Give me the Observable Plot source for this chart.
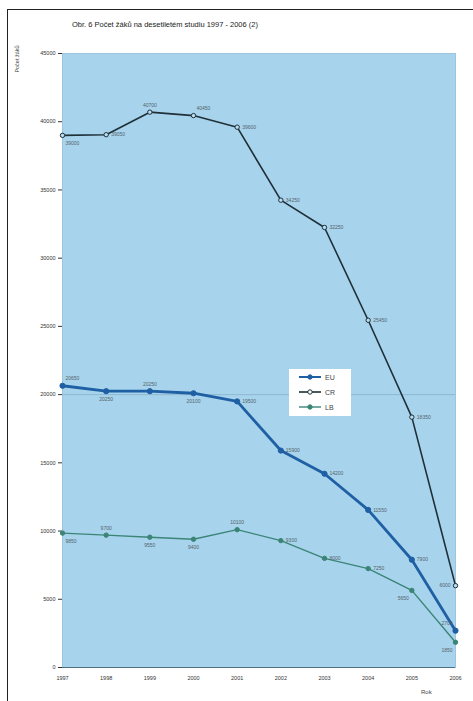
<!DOCTYPE html>
<html><head><meta charset="utf-8">
<script src="https://cdn.jsdelivr.net/npm/d3@7"></script>
<script src="https://cdn.jsdelivr.net/npm/@observablehq/plot@0.6"></script>
<style>
body{margin:0;background:#fff;font-family:"Liberation Sans",Arial,sans-serif;}
#wrap{position:relative;width:473px;height:701px;overflow:hidden;background:#fff;}
#frame{position:absolute;left:7px;top:9px;width:480px;height:700px;border-left:1.5px solid #222;border-top:1.5px solid #222;}
#title{position:absolute;left:72px;top:20px;font-size:7.5px;color:#222;white-space:nowrap;}
#ylab{position:absolute;left:3px;top:56px;font-size:5.5px;color:#444;transform:rotate(-90deg);transform-origin:center;white-space:nowrap;}
#xlab{position:absolute;left:421px;top:689px;font-size:6px;color:#444;}
#chart{position:absolute;left:0;top:0;}
#legend{position:absolute;left:289px;top:369px;width:62px;height:47px;background:#fff;}
.li{position:absolute;left:9px;height:10px;font-size:7px;color:#444;display:flex;align-items:center;}
.li svg{margin-right:3px;}
</style></head>
<body><div id="wrap"><div id="chart"></div><div id="frame"></div>
<div id="title">Obr. 6 Počet žáků na desetiletém studiu 1997 - 2006 (2)</div>
<div id="ylab">Počet žáků</div>
<div id="xlab">Rok</div>
<div id="legend"></div>
</div>
<script>
const years = [1997,1998,1999,2000,2001,2002,2003,2004,2005,2006];
const seriesNames = ["EU","CR","LB"];
const euValues = [20650,20250,20250,20100,19500,15900,14200,11550,7900,2700];
const crValues = [39000,39050,40700,40450,39600,34250,32250,25450,18350,6000];
const lbValues = [9850,9700,9550,9400,10100,9300,8000,7250,5650,1850];
const yTicks = [0,5000,10000,15000,20000,25000,30000,35000,40000,45000];

// label placement (styling only)
const euSide = ["tr","b","t","b","r","r","r","r","r","tl"];
const crSide = ["br","r","t","tr","r","r","r","r","r","l"];
const lbSide = ["br","t","b","b","t","r","r","r","bl","bl"];

const styles = {
  EU:{stroke:"#1f5fa3", width:2.8, fill:"#1f5fa3", r:2.6},
  CR:{stroke:"#1f3038", width:1.6, fill:"#b9dcee", r:2.2},
  LB:{stroke:"#3b8577", width:1.4, fill:"#3b8577", r:2.2}
};
const sideOpts = {
  t:{dx:0,dy:-7,textAnchor:"middle"},
  b:{dx:0,dy:8,textAnchor:"middle"},
  r:{dx:5,dy:0,textAnchor:"start"},
  l:{dx:-5,dy:0,textAnchor:"end"},
  tr:{dx:3,dy:-7,textAnchor:"start"},
  br:{dx:3,dy:8,textAnchor:"start"},
  tl:{dx:-3,dy:-7,textAnchor:"end"},
  bl:{dx:-3,dy:8,textAnchor:"end"}
};
const build = (vals, name, sides) => vals.map((v,i)=>({year:years[i], value:v, series:name, side:sides[i]}));
const data = {EU:build(euValues,"EU",euSide), CR:build(crValues,"CR",crSide), LB:build(lbValues,"LB",lbSide)};

const marks = [
  Plot.frame({fill:"#a7d3ec", stroke:"#9cc6de"}),
  Plot.ruleY([20000],{stroke:"#86adc4", strokeWidth:0.7}),
  Plot.ruleY([0],{stroke:"#4f6f85", strokeWidth:1.2})
];
for (const name of ["LB","EU","CR"]) {
  const s = styles[name], d = data[name];
  marks.push(Plot.line(d,{x:"year",y:"value",stroke:s.stroke,strokeWidth:s.width}));
  marks.push(Plot.dot(d,{x:"year",y:"value",r:s.r,fill:s.fill,stroke:s.stroke,strokeWidth:1}));
  for (const k of Object.keys(sideOpts)) {
    const sub = d.filter(p=>p.side===k);
    if (sub.length) marks.push(Plot.text(sub,{x:"year",y:"value",text:p=>String(p.value),fontSize:5,fill:"#55636b",...sideOpts[k]}));
  }
}

const chart = Plot.plot({
  width:473, height:701,
  marginLeft:62, marginRight:18, marginTop:53, marginBottom:34,
  style:{background:"transparent", fontSize:"5.5px", fontFamily:"Liberation Sans, Arial, sans-serif", color:"#333"},
  x:{domain:[1997,2006], ticks:years, tickFormat:d=>String(d), label:null, tickSize:0, tickPadding:9},
  y:{domain:[0,45000], ticks:yTicks, tickFormat:d=>String(d), label:null, tickSize:4, tickPadding:3},
  marks
});
document.getElementById("chart").appendChild(chart);

// legend
const leg = document.getElementById("legend");
seriesNames.forEach((name,i)=>{
  const s = styles[name];
  const div = document.createElement("div");
  div.className="li"; div.style.top = (3+i*15)+"px";
  div.innerHTML = `<svg width="24" height="8"><line x1="1" y1="4" x2="23" y2="4" stroke="${s.stroke}" stroke-width="${Math.min(s.width,2)}"/><circle cx="12" cy="4" r="2.2" fill="${name==='CR'?'#fff':s.fill}" stroke="${s.stroke}" stroke-width="1"/></svg><span>${name}</span>`;
  leg.appendChild(div);
});
</script></body></html>
